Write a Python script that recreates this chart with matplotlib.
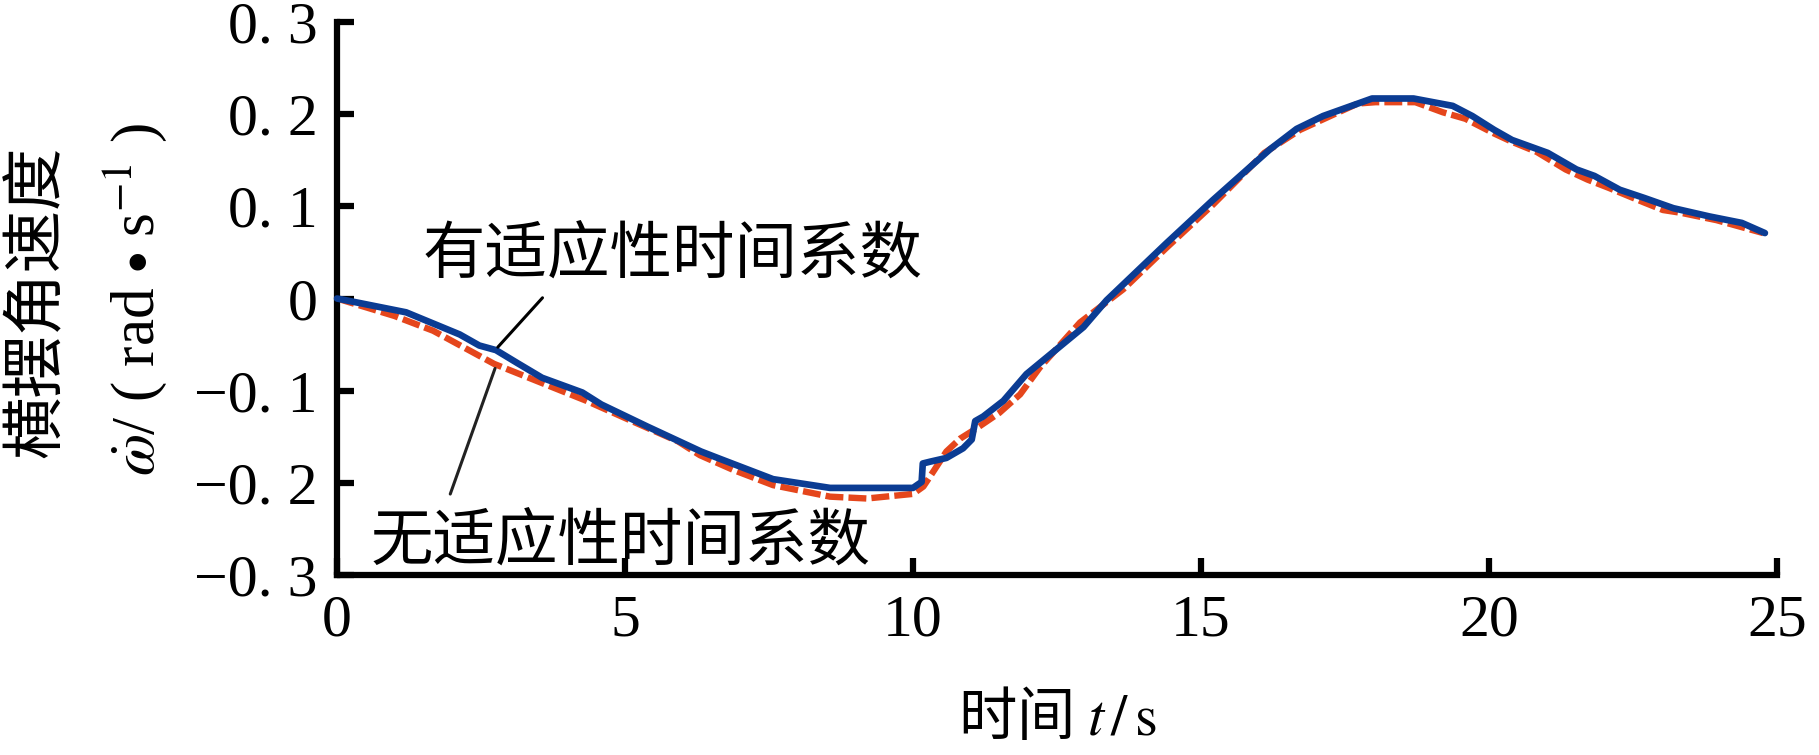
import matplotlib
matplotlib.use("Agg")
import matplotlib.pyplot as plt

plt.rcParams["font.family"] = ["Liberation Serif", "Noto Sans CJK SC"]
plt.rcParams["mathtext.fontset"] = "stix"
plt.rcParams["axes.unicode_minus"] = True

# 有适应性时间系数 (blue, solid)
t_adapt = [0, 1.2, 2.13, 2.47, 2.76, 3.13, 3.56, 4.26, 4.59, 5.39, 6.32, 6.65,
           7.57, 8.56, 10.0, 10.15, 10.17, 10.3, 10.58, 10.87, 11.02, 11.08,
           11.22, 11.57, 11.97, 12.96, 13.36, 14.4, 15.21, 16.2, 16.66, 17.12,
           17.97, 18.69, 19.37, 19.71, 20.09, 20.4, 21.02, 21.52, 21.83, 22.27,
           22.7, 23.2, 23.83, 24.39, 24.79]
w_adapt = [0, -0.015, -0.039, -0.051, -0.056, -0.070, -0.086, -0.102, -0.115,
           -0.139, -0.166, -0.174, -0.196, -0.2055, -0.2055, -0.199, -0.179,
           -0.177, -0.173, -0.1625, -0.153, -0.133, -0.128, -0.111, -0.082,
           -0.031, -0.002, 0.060, 0.107, 0.162, 0.184, 0.198, 0.217, 0.217,
           0.209, 0.198, 0.183, 0.172, 0.158, 0.140, 0.133, 0.118, 0.109,
           0.098, 0.089, 0.082, 0.071]

# 无适应性时间系数 (red, dashed)
t_fixed = [0, 1.0, 1.67, 2.2, 2.73, 3.53, 4.33, 5.12, 5.92, 6.3, 6.88, 7.57,
           8.56, 9.2, 10.0, 10.18, 10.35, 10.58, 10.82, 11.1, 11.5, 11.86,
           12.2, 12.9, 13.65, 14.4, 15.21, 16.1, 16.72, 17.72, 18.03, 18.72,
           19.2, 19.59, 20.09, 20.4, 20.83, 21.33, 21.71, 22.08, 22.7, 23.02,
           23.33, 23.95, 24.76]
w_fixed = [0, -0.019, -0.035, -0.053, -0.071, -0.091, -0.111, -0.133, -0.155,
           -0.170, -0.186, -0.2025, -0.215, -0.217, -0.212, -0.204, -0.188,
           -0.166, -0.152, -0.141, -0.124, -0.104, -0.075, -0.026, 0.010,
           0.055, 0.102, 0.158, 0.183, 0.2115, 0.213, 0.213, 0.202, 0.195,
           0.179, 0.170, 0.159, 0.140, 0.129, 0.120, 0.104, 0.096, 0.093,
           0.085, 0.071]

x_ticks = [0, 5, 10, 15, 20, 25]
y_ticks = [-0.3, -0.2, -0.1, 0, 0.1, 0.2, 0.3]
y_ticklabels = ["\u22120. 3", "\u22120. 2", "\u22120. 1", "0", "0. 1", "0. 2", "0. 3"]

W, H = 1819, 755
fig = plt.figure(figsize=(W / 100, H / 100), dpi=100)
ax = fig.add_axes([337 / W, 1 - 575 / H, (1777 - 337) / W, (575 - 22) / H])

ax.plot(t_fixed, w_fixed, color="#E5461C", lw=4.6, linestyle=(0, (2.8, 0.8)),
        zorder=2, clip_on=False)
ax.plot(t_adapt, w_adapt, color="#0B3C93", lw=4.8, zorder=3,
        solid_capstyle="round", clip_on=False)

ax.set_xlim(0, 25)
ax.set_ylim(-0.3, 0.3)
ax.set_xticks(x_ticks)
ax.set_yticks(y_ticks)
ax.set_yticklabels(y_ticklabels)
for side in ["top", "right"]:
    ax.spines[side].set_visible(False)
for side in ["left", "bottom"]:
    ax.spines[side].set_linewidth(4.5)
ax.tick_params(direction="in", length=12, width=4.5, labelsize=43)
ax.tick_params(axis="x", pad=14)
ax.tick_params(axis="y", pad=14)

cjk = ["Noto Sans CJK SC", "DejaVu Sans"]

# labels on the curves
ax.text(1.49, 0.0475, "有适应性时间系数", family=cjk, fontsize=45,
        ha="left", va="center")
ax.text(0.59, -0.264, "无适应性时间系数", family=cjk, fontsize=45,
        ha="left", va="center")
ax.annotate("", xy=(2.76, -0.055), xytext=(3.6, 0.003),
            arrowprops=dict(arrowstyle="-", color="black", lw=2.2))
ax.annotate("", xy=(2.76, -0.073), xytext=(1.95, -0.215),
            arrowprops=dict(arrowstyle="-", color="#222222", lw=2.2))

# axis titles
fig.text(1057 / W, 1 - 718 / H, r"时间 $t\,/\,\mathrm{s}$", family=cjk,
         fontsize=42, ha="center", va="center")
fig.text(37 / W, 1 - 302 / H, "横摆角速度", family=cjk, fontsize=45,
         rotation=90, ha="center", va="center")
fig.text(135 / W, 1 - 300 / H,
         r"$\dot{\omega}$/ ( rad $\bullet$ s$^{-1}$ )",
         fontsize=44, rotation=90, ha="center", va="center")

fig.savefig("out.png", dpi=100)
